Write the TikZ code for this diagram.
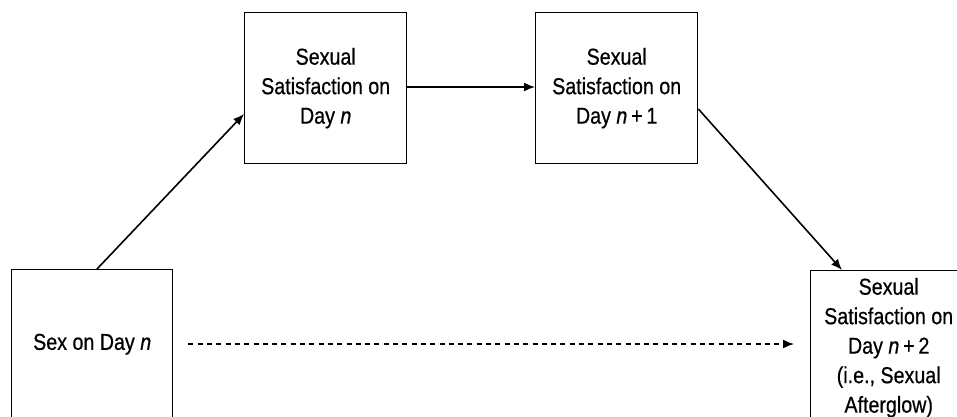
\documentclass[tikz,border=0pt]{standalone}
\usepackage{fontspec}
\setmainfont{Liberation Sans}[FakeStretch=0.855,FakeBold=0.6]
\usetikzlibrary{arrows.meta}
\tikzset{
  box/.style={draw, line width=1.4pt, anchor=north west, inner sep=0pt, align=center,
    font=\fontsize{23pt}{29.5pt}\selectfont},
  link/.style={line width=1.6pt, -{Latex[length=11pt,width=9pt]}},
  dlink/.style={link, dash pattern=on 5pt off 4.3pt},
}
\begin{document}
\begin{tikzpicture}[x=1pt,y=-1pt]
\useasboundingbox (0,0) rectangle (957,416);
\clip (0,0) rectangle (957,416);
\node[box, minimum width=161pt, minimum height=149pt] (A) at (11,269) {Sex on Day \textit{n}};
\node[box, minimum width=162pt, minimum height=151pt] (B) at (244,12) {Sexual\\Satisfaction on\\Day \textit{n}};
\node[box, minimum width=162pt, minimum height=151pt] (C) at (535,12) {Sexual\\Satisfaction on\\Day \textit{n}\,+\,1};
\node[box, minimum width=156pt, minimum height=154pt] (D) at (810,270) {Sexual\\Satisfaction on\\Day \textit{n}\,+\,2\\(i.e., Sexual\\Afterglow)};
\draw[link] ([xshift=86pt]A.north west) -- ([yshift=-102pt]B.north west);
\draw[link] ([yshift=-75pt]B.north east) -- ([yshift=-75pt]C.north west);
\draw[link] ([yshift=-97pt]C.north east) -- ([xshift=32pt]D.north west);
\draw[dlink] ([xshift=15pt,yshift=-75pt]A.north east) -- ([xshift=-16pt,yshift=-74pt]D.north west);
\end{tikzpicture}
\end{document}
